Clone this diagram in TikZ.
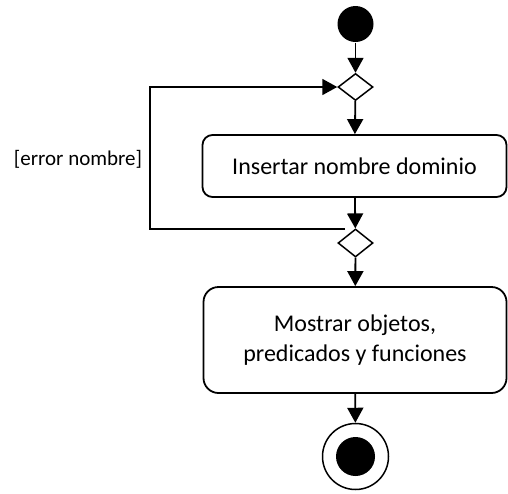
\documentclass[tikz,border=0pt]{standalone}
\usepackage{fontspec}
\setmainfont{Carlito}
\usetikzlibrary{shapes.geometric,arrows.meta}
\begin{document}
\begin{tikzpicture}[x=1pt,y=-1pt,
  line width=1.8pt,
  flow/.style={-{Triangle[length=15pt,width=16pt]}},
  actbox/.style={draw,rounded corners=#1,align=center,inner sep=0pt,
    font=\fontsize{24}{30}\selectfont},
  decis/.style={draw,diamond,inner sep=0pt,line width=1.5pt,
    minimum width=35pt,minimum height=27pt,fill=white},
  lbl/.style={font=\fontsize{21}{25}\selectfont,inner sep=0pt}]
\useasboundingbox (0,0) rectangle (508,493);
\node[circle,fill=black,inner sep=0pt,minimum size=36pt] (start) at (355.5,24) {};
\node[decis] (d1) at (355.5,87) {};
\node[actbox=10pt,minimum width=304pt,minimum height=62pt] (b1) at (354.5,166) {Insertar nombre dominio};
\node[decis,minimum height=28pt] (d2) at (355.5,243) {};
\node[actbox=15pt,minimum width=303pt,minimum height=106pt] (b2) at (355,340) {Mostrar objetos,\\predicados y funciones};
\node[circle,draw,line width=1.5pt,inner sep=0pt,minimum size=66pt] (end) at (355.5,456.5) {};
\node[circle,fill=black,inner sep=0pt,minimum size=39pt] (endin) at (end.center) {};
\node[lbl,anchor=east] (err) at (143,159) {[error nombre]};
\coordinate (lp) at (345,229);
\draw[flow] (start) -- (d1);
\draw[flow] (d1) -- (b1);
\draw[flow] (b1) -- (d2);
\draw[flow] (d2) -- (b2);
\draw[flow] (b2) -- (end);
\draw[flow] (lp) -- (150,229) -- (150,87) -- (d1.west);
\end{tikzpicture}
\end{document}
